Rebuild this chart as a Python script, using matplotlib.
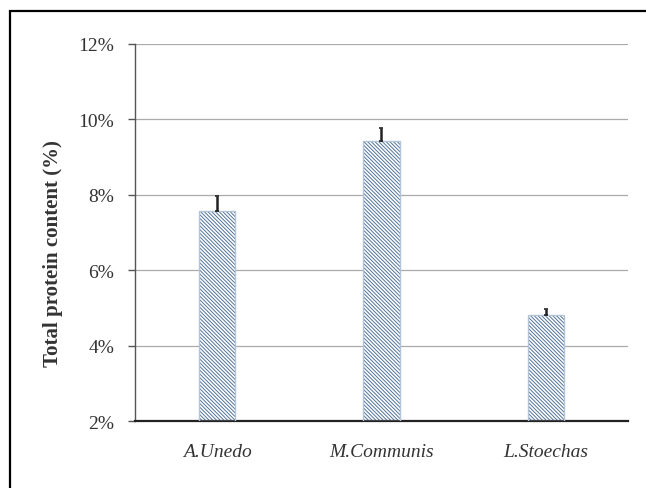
import numpy as np
import matplotlib.pyplot as plt
from matplotlib.patches import Rectangle
from matplotlib.ticker import FuncFormatter

# protein content per plant extract (%)
species = ["A.Unedo", "M.Communis", "L.Stoechas"]
protein = [7.58, 9.44, 4.80]
protein_err = [0.40, 0.32, 0.16]

plt.rcParams["font.family"] = ["Liberation Serif", "DejaVu Serif"]
plt.rcParams["hatch.linewidth"] = 0.7
plt.rcParams["hatch.color"] = "#52739a"

fig = plt.figure(figsize=(6.46, 4.89), dpi=100)
ax = fig.add_axes([0.209, 0.137, 0.763, 0.771])

x = np.arange(len(species))

# hatched fill, then a light outline on top
ax.bar(x, np.array(protein) - 2, bottom=2, width=0.22, color="white",
       edgecolor="#52739a", hatch="\\" * 9, linewidth=0, zorder=2)
ax.bar(x, np.array(protein) - 2, bottom=2, width=0.22, color="none",
       edgecolor="#b4c4d8", linewidth=1.0, zorder=3)

ax.errorbar(x, protein, yerr=[np.zeros(len(protein)), protein_err],
            fmt="none", ecolor="#222222", elinewidth=1.8, capsize=1.5,
            capthick=1.2, zorder=4)

ax.set_ylim(2, 12)
ax.set_xlim(-0.5, 2.5)
ax.set_yticks(np.arange(2, 13, 2))
ax.yaxis.set_major_formatter(FuncFormatter(lambda v, _: f"{int(v)}%"))
ax.set_xticks(x)
ax.set_xticklabels(species, fontstyle="italic", fontsize=14)
ax.tick_params(axis="x", length=0, pad=16, colors="#333333")
ax.tick_params(axis="y", direction="out", length=5, width=1, pad=10,
               labelsize=14, colors="#555555", labelcolor="#333333")

ax.grid(axis="y", color="#aaaaaa", linewidth=0.9, zorder=0)
ax.set_axisbelow(True)
for side in ["top", "right"]:
    ax.spines[side].set_visible(False)
ax.spines["left"].set_color("#555555")
ax.spines["left"].set_linewidth(1.0)
ax.spines["bottom"].set_color("#222222")
ax.spines["bottom"].set_linewidth(1.6)

ax.set_ylabel("Total protein content (%)", fontsize=15, fontweight="bold",
              color="#333333")
ax.yaxis.set_label_coords(-0.146, 0.446)

# black frame around the whole figure, running off the right and bottom
fig.patches.append(Rectangle((10 / 646, -0.2), 1.2, 1.2 - 12 / 489,
                             transform=fig.transFigure, fill=False,
                             edgecolor="black", linewidth=1.6))

fig.savefig("out.png", dpi=100)
